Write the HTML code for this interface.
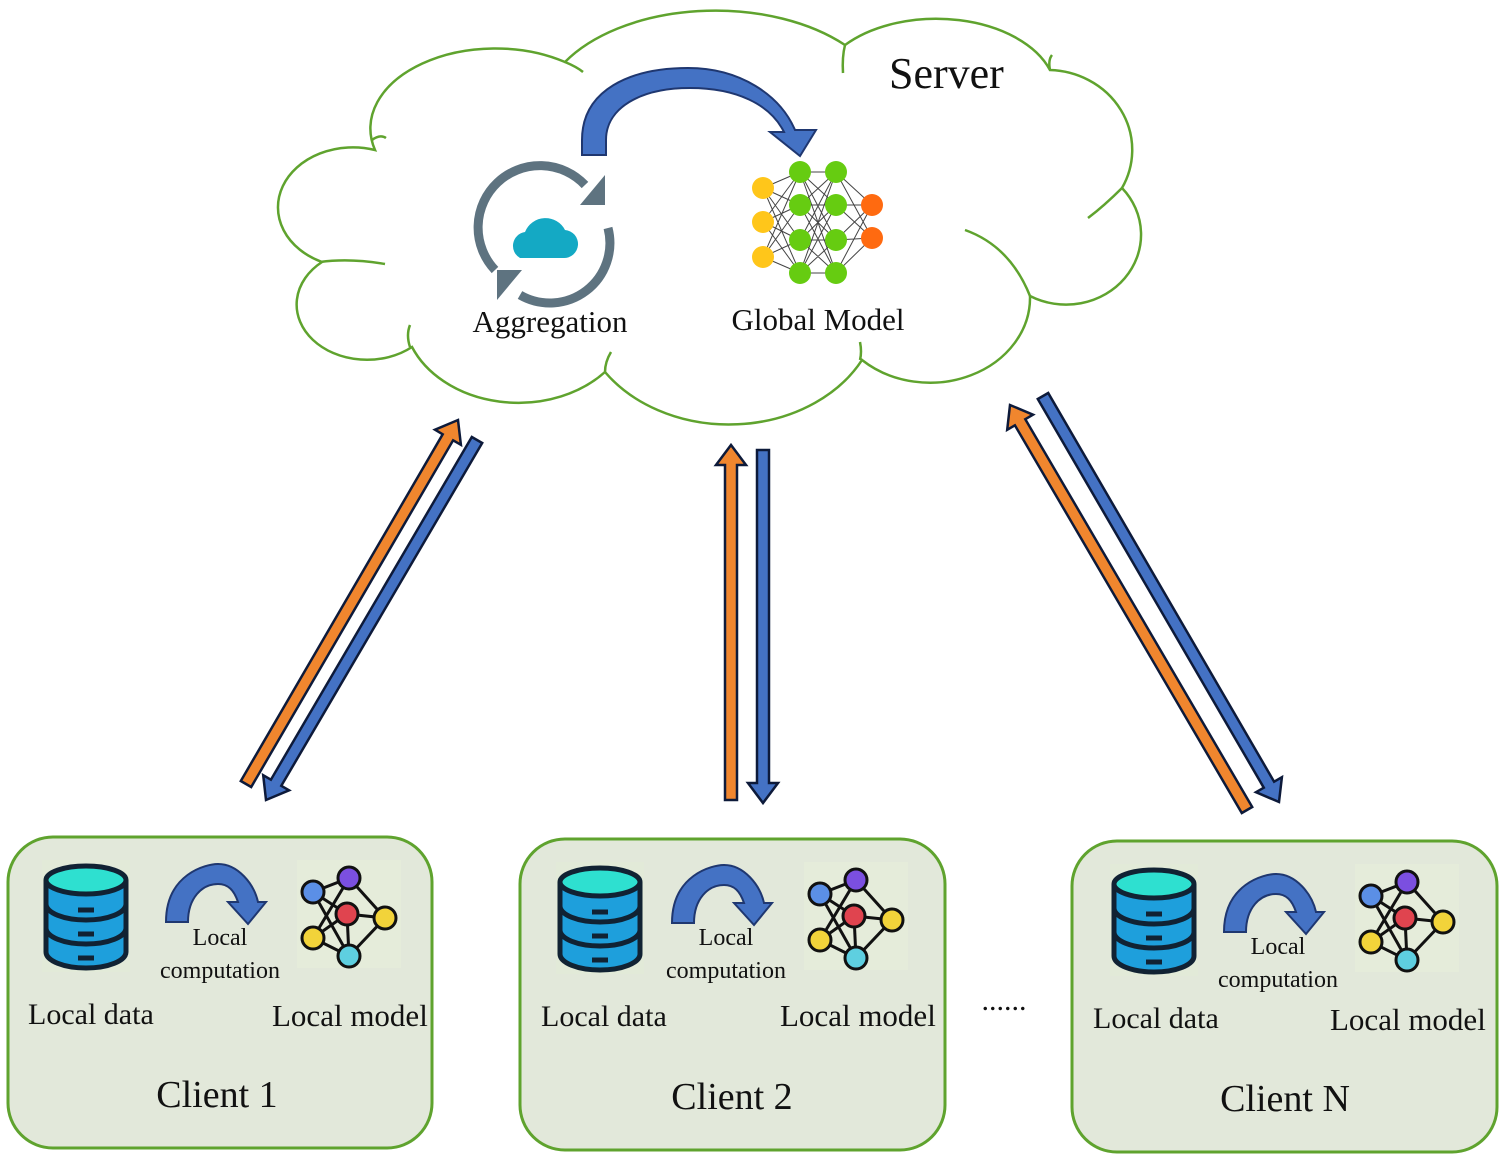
<!DOCTYPE html>
<html><head><meta charset="utf-8"><style>
html,body{margin:0;padding:0;background:#fff}
svg{display:block}
text{font-family:"Liberation Serif",serif;fill:#111}
</style></head><body>
<svg id="s" width="1505" height="1159" viewBox="0 0 1505 1159" xmlns="http://www.w3.org/2000/svg">
<defs>
<g id="db">
  <rect x="0" y="0" width="88" height="112" fill="#e2ead8"/>
  <path d="M4 20 v72 a40 16 0 0 0 80 0 v-72" fill="#1e9fdc" stroke="#123" stroke-width="5"/>
  <path d="M4 44 a40 16 0 0 0 80 0 M4 68 a40 16 0 0 0 80 0" fill="none" stroke="#123" stroke-width="5"/>
  <ellipse cx="44" cy="20" rx="40" ry="14" fill="#2ee0d0" stroke="#123" stroke-width="5"/>
  <path d="M36 50h16 M36 74h16 M36 98h16" stroke="#123" stroke-width="5"/>
</g>
<g id="lm">
  <rect x="0" y="0" width="104" height="108" fill="#e5ecda"/>
  <g stroke="#111" stroke-width="3">
   <line x1="16" y1="32" x2="52" y2="18"/><line x1="16" y1="32" x2="50" y2="54"/><line x1="16" y1="32" x2="52" y2="96"/>
   <line x1="52" y1="18" x2="16" y2="78"/><line x1="52" y1="18" x2="88" y2="58"/><line x1="50" y1="54" x2="88" y2="58"/>
   <line x1="50" y1="54" x2="52" y2="96"/><line x1="16" y1="78" x2="50" y2="54"/><line x1="16" y1="78" x2="52" y2="96"/><line x1="88" y1="58" x2="52" y2="96"/>
  </g>
  <g stroke="#111" stroke-width="3">
   <circle cx="16" cy="32" r="11" fill="#5b8fe6"/><circle cx="52" cy="18" r="11" fill="#7b4fe0"/>
   <circle cx="50" cy="54" r="11" fill="#e0444f"/><circle cx="88" cy="58" r="11" fill="#f2d33a"/>
   <circle cx="16" cy="78" r="11" fill="#f2d33a"/><circle cx="52" cy="96" r="11" fill="#5ecfe0"/>
  </g>
</g>
<g id="ca">
  <path d="M0 58 C0 10 40 0 52 0 C72 0 88 20 92 38 L100 38 L82 60 L62 38 L72 38 C68 26 62 20 52 20 C36 20 22 34 22 58 Z" fill="#4472c4" stroke="#1f3770" stroke-width="2"/>
</g>
</defs>

<!-- cloud -->
<path d="M375 150 A125 80 0 0 1 565 62 A175 105 0 0 1 845 45 A120 75 0 0 1 1050 70 A85 80 0 0 1 1122 188 A75 70 0 0 1 1030 296 A100 85 0 0 1 862 360 A150 120 0 0 1 605 372 A115 90 0 0 1 412 347 A70 55 0 0 1 322 262 A75 60 0 0 1 375 150 Z" fill="#fff" stroke="#5fa32e" stroke-width="2.5"/>
<g fill="none" stroke="#5fa32e" stroke-width="2.5">
 <path d="M372 140 q8 -6 14 -2"/><path d="M320 262 q30 -4 65 2"/><path d="M410 347 q-4 -12 0 -22"/>
 <path d="M605 372 q0 -10 6 -20"/><path d="M860 360 q2 -8 0 -18"/><path d="M1030 296 q-20 -50 -65 -66"/>
 <path d="M1122 188 q-18 18 -34 30"/><path d="M1050 70 q-2 -10 2 -15"/><path d="M845 45 q-3 12 -2 28"/><path d="M565 62 q12 5 18 10"/>
</g>
<text x="889" y="88" font-size="44">Server</text>

<!-- big arc arrow -->
<path d="M582 155 L582 140 C582 90 630 68 688 68 C740 68 780 95 795 130 L816 130 L800 156 L770 132 L784 132 C770 104 736 88 690 88 C640 88 606 108 606 140 L606 155 Z" fill="#4472c4" stroke="#1f3770" stroke-width="2"/>

<!-- aggregation icon -->
<g fill="none" stroke="#5e7380" stroke-width="9">
 <path d="M495 270 A60 60 0 0 1 585 185"/>
 <path d="M608 228 A60 60 0 0 1 520 295"/>
</g>
<polygon points="605,175 605,205 580,205" fill="#5e7380"/>
<polygon points="497,300 497,270 522,270" fill="#5e7380"/>
<path d="M520 258 a14 14 0 0 1 5 -26 a22 22 0 0 1 40 -2 a14 14 0 0 1 -2 28 Z" fill="#14a9c4"/>
<text x="550" y="332" font-size="31" text-anchor="middle">Aggregation</text>

<!-- global model -->
<g stroke="#444" stroke-width="1">
 <path d="M763 188 L800 172 M763 188 L800 205 M763 188 L800 240 M763 188 L800 273 M763 222 L800 172 M763 222 L800 205 M763 222 L800 240 M763 222 L800 273 M763 257 L800 172 M763 257 L800 205 M763 257 L800 240 M763 257 L800 273"/>
 <path d="M800 172 L836 172 M800 172 L836 205 M800 172 L836 240 M800 172 L836 273 M800 205 L836 172 M800 205 L836 205 M800 205 L836 240 M800 205 L836 273 M800 240 L836 172 M800 240 L836 205 M800 240 L836 240 M800 240 L836 273 M800 273 L836 172 M800 273 L836 205 M800 273 L836 240 M800 273 L836 273"/>
 <path d="M836 172 L872 205 M836 172 L872 238 M836 205 L872 205 M836 205 L872 238 M836 240 L872 205 M836 240 L872 238 M836 273 L872 205 M836 273 L872 238"/>
</g>
<g fill="#ffc61a"><circle cx="763" cy="188" r="11"/><circle cx="763" cy="222" r="11"/><circle cx="763" cy="257" r="11"/></g>
<g fill="#66cc11"><circle cx="800" cy="172" r="11"/><circle cx="800" cy="205" r="11"/><circle cx="800" cy="240" r="11"/><circle cx="800" cy="273" r="11"/>
<circle cx="836" cy="172" r="11"/><circle cx="836" cy="205" r="11"/><circle cx="836" cy="240" r="11"/><circle cx="836" cy="273" r="11"/></g>
<g fill="#ff6a10"><circle cx="872" cy="205" r="11"/><circle cx="872" cy="238" r="11"/></g>
<text x="818" y="330" font-size="31" text-anchor="middle">Global Model</text>

<g id="arrows"></g>

<!-- clients -->
<g>
 <rect x="8" y="837" width="424" height="311" rx="45" fill="#e2e8da" stroke="#5fa32e" stroke-width="3"/>
 <use href="#db" x="42" y="860"/>
 <use href="#ca" x="166" y="864"/>
 <use href="#lm" x="297" y="860"/>
 <text x="220" y="945" font-size="24" text-anchor="middle">Local</text>
 <text x="220" y="978" font-size="24" text-anchor="middle">computation</text>
 <text x="28" y="1024" font-size="30">Local data</text>
 <text x="272" y="1026" font-size="31">Local model</text>
 <text x="217" y="1107" font-size="38" text-anchor="middle">Client 1</text>
</g>
<g>
 <rect x="520" y="839" width="425" height="311" rx="45" fill="#e2e8da" stroke="#5fa32e" stroke-width="3"/>
 <use href="#db" x="556" y="862"/>
 <use href="#ca" x="672" y="865"/>
 <use href="#lm" x="804" y="862"/>
 <text x="726" y="945" font-size="24" text-anchor="middle">Local</text>
 <text x="726" y="978" font-size="24" text-anchor="middle">computation</text>
 <text x="541" y="1026" font-size="30">Local data</text>
 <text x="780" y="1026" font-size="31">Local model</text>
 <text x="732" y="1109" font-size="38" text-anchor="middle">Client 2</text>
</g>
<g>
 <rect x="1072" y="841" width="425" height="311" rx="45" fill="#e2e8da" stroke="#5fa32e" stroke-width="3"/>
 <use href="#db" x="1110" y="864"/>
 <use href="#ca" x="1224" y="874"/>
 <use href="#lm" x="1355" y="864"/>
 <text x="1278" y="954" font-size="24" text-anchor="middle">Local</text>
 <text x="1278" y="987" font-size="24" text-anchor="middle">computation</text>
 <text x="1093" y="1028" font-size="30">Local data</text>
 <text x="1330" y="1030" font-size="31">Local model</text>
 <text x="1285" y="1111" font-size="38" text-anchor="middle">Client N</text>
</g>
<text x="1004" y="1010" font-size="30" text-anchor="middle">......</text>
</svg>
<script>
(function(){
 var g=document.getElementById('arrows');
 function arrow(x1,y1,x2,y2,col){
  var dx=x2-x1,dy=y2-y1,L=Math.sqrt(dx*dx+dy*dy),ux=dx/L,uy=dy/L,nx=-uy,ny=ux;
  var sw=6,hw=15,hl=20;
  var bx=x2-ux*hl,by=y2-uy*hl;
  var p=[[x1+nx*sw,y1+ny*sw],[bx+nx*sw,by+ny*sw],[bx+nx*hw,by+ny*hw],[x2,y2],[bx-nx*hw,by-ny*hw],[bx-nx*sw,by-ny*sw],[x1-nx*sw,y1-ny*sw]];
  var e=document.createElementNS('http://www.w3.org/2000/svg','polygon');
  e.setAttribute('points',p.map(function(q){return q[0].toFixed(1)+','+q[1].toFixed(1)}).join(' '));
  e.setAttribute('fill',col);e.setAttribute('stroke','#0d1a3a');e.setAttribute('stroke-width','2.5');
  g.appendChild(e);
 }
 var O='#f0862e',B='#4472c4';
 arrow(246,784,458,420,O);
 arrow(477,440,266,800,B);
 arrow(731,800,731,445,O);
 arrow(763,450,763,803,B);
 arrow(1247,810,1010,405,O);
 arrow(1043,396,1279,802,B);
})();
</script>
</body></html>
